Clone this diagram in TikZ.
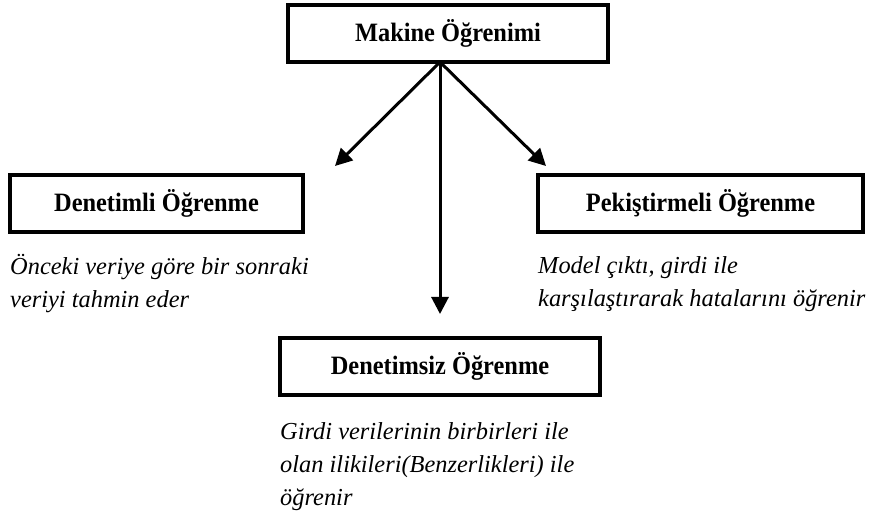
\documentclass[tikz,border=0pt]{standalone}
\usepackage{fontspec}
\setmainfont{Liberation Serif}
\newfontfamily\boxfont[FakeStretch=0.92]{Liberation Serif}
\usetikzlibrary{arrows.meta}
\begin{document}
\begin{tikzpicture}[x=1pt,y=-1pt,
  catbox/.style={draw,line width=3.8pt,minimum height=57pt,inner sep=0pt,
    font=\boxfont\fontsize{26.5}{30}\selectfont\bfseries},
  desc/.style={anchor=north west,align=left,inner sep=0pt,
    font=\fontsize{24.4}{33}\selectfont\itshape},
  link/.style={line width=3pt,-{Triangle[length=17pt,width=17pt]}}]
\useasboundingbox (0,0) rectangle (869,518);
% category boxes
\node[catbox,minimum width=320pt] (ml)  at (448,33.5)  {Makine Öğrenimi};
\node[catbox,minimum width=293pt] (sup) at (156.5,203.5) {Denetimli Öğrenme};
\node[catbox,minimum width=325pt] (rl)  at (700.5,203.5) {Pekiştirmeli Öğrenme};
\node[catbox,minimum width=320pt] (uns) at (440,366.5) {Denetimsiz Öğrenme};
% arrow ends
\coordinate (apex) at (440,62);
\coordinate (tipL) at (335,166);
\coordinate (tipR) at (546,166);
\coordinate (tipD) at (440,314);
\draw[link] (apex) -- (tipL);
\draw[link] (apex) -- (tipR);
\draw[link] (apex) -- (tipD);
% descriptions
\node[desc] (dsup) at (10,254.5) {Önceki veriye göre bir sonraki\\veriyi tahmin eder};
\node[desc] (drl)  at (538,256) {Model çıktı, girdi ile\\karşılaştırarak hatalarını öğrenir};
\node[desc] (duns) at (280,422) {Girdi verilerinin birbirleri ile\\olan ilikileri(Benzerlikleri) ile\\öğrenir};
\end{tikzpicture}
\end{document}
